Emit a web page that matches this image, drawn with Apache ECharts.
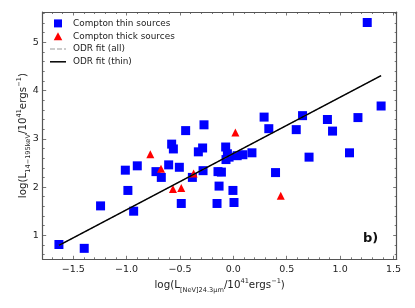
<!DOCTYPE html>
<html>
<head>
<meta charset="utf-8">
<script src="https://cdn.jsdelivr.net/npm/echarts@6/dist/echarts.min.js"></script>
<style>
html,body{margin:0;padding:0;background:#fff;}
#c{width:415px;height:308px;}
</style>
</head>
<body>
<div id="c"></div>
<script>
// Compton thin sources
const thinX = [-1.634, -1.397, -1.244, -1.012, -0.988, -0.934, -0.900, -0.725, -0.675, -0.606,
  -0.578, -0.562, -0.506, -0.488, -0.447, -0.384, -0.328, -0.288, -0.284, -0.275,
  -0.153, -0.144, -0.134, -0.112, -0.072, -0.069, -0.056, -0.040, -0.004, 0.006,
  0.036, 0.089, 0.174, 0.288, 0.332, 0.395, 0.589, 0.648, 0.709, 0.881,
  0.929, 1.088, 1.167, 1.254, 1.384];
const thinY = [0.81, 0.73, 1.61, 2.35, 1.93, 1.50, 2.44, 2.32, 2.20, 2.46,
  2.89, 2.79, 2.41, 1.66, 3.17, 2.20, 2.73, 2.81, 2.34, 3.29,
  1.66, 2.32, 2.02, 2.31, 2.83, 2.57, 2.69, 2.62, 1.93, 1.68,
  2.65, 2.67, 2.71, 3.45, 3.21, 2.30, 3.19, 3.48, 2.62, 3.40,
  3.16, 2.71, 3.44, 5.41, 3.68];
// Compton thick sources
const thickX = [-0.778, -0.678, -0.566, -0.488, -0.372, 0.019, 0.444];
const thickY = [2.68, 2.38, 1.96, 1.98, 2.28, 3.13, 1.82];
// ODR fits
const fitX = [-1.634, 1.384];
const fitAllY = [0.79, 4.31];
const fitThinY = [0.79, 4.31];
// axis ticks
const xMajor = [-1.5, -1.0, -0.5, 0.0, 0.5, 1.0, 1.5];
const yMajor = [1, 2, 3, 4, 5];
const xRange = [-1.786, 1.53];
const yRange = [0.503, 5.628];
const legendNames = ['Compton thin sources', 'Compton thick sources', 'ODR fit (all)', 'ODR fit (thin)'];

const xMinor = [];
for (let i = -17; i <= 15; i++) { if (i % 5 !== 0) xMinor.push(+(i / 10).toFixed(1)); }
const yMinor = [];
for (let i = 3; i <= 28; i++) { if (i % 5 !== 0) yMinor.push(+(i / 5).toFixed(1)); }

const FONT = 'DejaVu Sans';
const frame = '#555';
function xAx(pos, ticks, len, showLabel, showLine) {
  return {
    type: 'value', position: pos, min: xRange[0], max: xRange[1],
    axisLine: {show: showLine, onZero: false, lineStyle: {color: frame, width: 1.2}},
    axisTick: {show: true, inside: true, length: len, customValues: ticks, lineStyle: {color: frame, width: 0.8}},
    axisLabel: {show: showLabel, customValues: ticks, margin: 5, color: '#222', fontFamily: FONT, fontSize: 9.5,
      formatter: v => (v < 0 ? '\u2212' : '') + Math.abs(v).toFixed(1)},
    splitLine: {show: false}
  };
}
function yAx(pos, ticks, len, showLabel, showLine) {
  return {
    type: 'value', position: pos, min: yRange[0], max: yRange[1],
    axisLine: {show: showLine, onZero: false, lineStyle: {color: frame, width: 1.2}},
    axisTick: {show: true, inside: true, length: len, customValues: ticks, lineStyle: {color: frame, width: 0.8}},
    axisLabel: {show: showLabel, customValues: ticks, margin: 4, color: '#222', fontFamily: FONT, fontSize: 9.5,
      formatter: v => String(v)},
    splitLine: {show: false}
  };
}
const nameStyle = {
  fontFamily: FONT, color: '#222',
  rich: {
    m: {fontFamily: FONT, fontSize: 10.3, color: '#222', lineHeight: 16},
    s: {fontFamily: FONT, fontSize: 6.6, color: '#222', verticalAlign: 'bottom', lineHeight: 11},
    u: {fontFamily: FONT, fontSize: 6.6, color: '#222', verticalAlign: 'top', lineHeight: 11}
  }
};
const xAxes = [
  xAx('bottom', xMajor, 3.5, true, true),
  xAx('bottom', xMinor, 2, false, false),
  xAx('top', xMajor, 3.5, false, true),
  xAx('top', xMinor, 2, false, false)
];
Object.assign(xAxes[0], {
  name: '{m|log(L}{s|[NeV]24.3\u03bcm}{m|/10}{u|41}{m|ergs}{u|\u22121}{m|)}',
  nameLocation: 'middle', nameGap: 18, nameMoveOverlap: false, nameTextStyle: nameStyle
});
const yAxes = [
  yAx('left', yMajor, 3.5, true, true),
  yAx('left', yMinor, 2, false, false),
  yAx('right', yMajor, 3.5, false, true),
  yAx('right', yMinor, 2, false, false)
];
Object.assign(yAxes[0], {
  name: '{m|log(L}{s|14\u2212195keV}{m|/10}{u|41}{m|ergs}{u|\u22121}{m|)}',
  nameLocation: 'middle', nameRotate: 90, nameGap: 11, nameMoveOverlap: false, nameTextStyle: nameStyle
});

const icons = [
  'path://M0,0h8v8h-8z',
  'path://M4,0L8,7.5H0z',
  'path://M0,0h5v1.2h-5zM7,0h5v1.2h-5zM14,0h2v1.2h-2z',
  'path://M0,0h16v1.5h-16z'
];

const chart = echarts.init(document.getElementById('c'), null, {renderer: 'canvas'});
chart.setOption({
  animation: false,
  backgroundColor: '#fff',
  grid: {left: 42.7, right: 18.3, top: 12, bottom: 48.7, containLabel: false},
  xAxis: xAxes,
  yAxis: yAxes,
  legend: {
    orient: 'vertical', left: 50, top: 17, padding: 0, itemWidth: 16, itemHeight: 8, itemGap: 0,
    textStyle: {fontFamily: FONT, fontSize: 8.9, color: '#222', lineHeight: 12.8, padding: [0, 0, 0, 2]},
    data: legendNames.map((n, i) => ({name: n, icon: icons[i]}))
  },
  graphic: [{
    type: 'text', left: 363, top: 232,
    style: {text: 'b)', fontFamily: FONT, fontWeight: 'bold', fontSize: 13, fill: '#111'}
  }],
  series: [
    {name: legendNames[0], type: 'scatter', symbol: 'rect', symbolSize: 9,
      itemStyle: {color: '#0000ff', opacity: 1}, data: thinX.map((x, i) => [x, thinY[i]]), z: 2},
    {name: legendNames[1], type: 'scatter', symbol: 'triangle', symbolSize: 8,
      itemStyle: {color: '#ff0000', opacity: 1}, data: thickX.map((x, i) => [x, thickY[i]]), z: 2},
    {name: legendNames[2], type: 'line', symbol: 'none', lineStyle: {color: '#999', width: 1.2, type: [4, 2]},
      itemStyle: {color: '#999'}, data: fitX.map((x, i) => [x, fitAllY[i]]), z: 3},
    {name: legendNames[3], type: 'line', symbol: 'none', lineStyle: {color: '#000', width: 1.5},
      itemStyle: {color: '#000'}, data: fitX.map((x, i) => [x, fitThinY[i]]), z: 4}
  ]
});
</script>
</body>
</html>
